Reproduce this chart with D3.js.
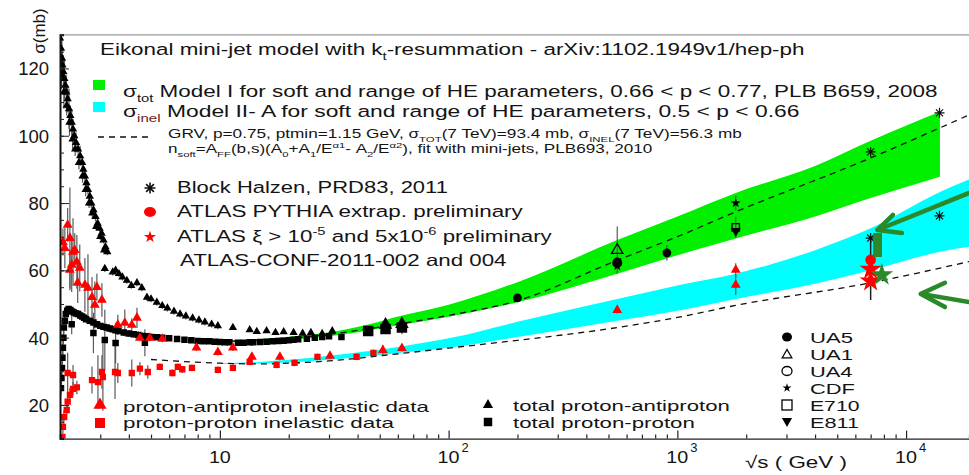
<!DOCTYPE html>
<html>
<head>
<meta charset="utf-8">
<script src="https://cdn.jsdelivr.net/npm/d3@7"></script>
<style>
  body { margin: 0; background: #fff; }
  svg { display: block; }
  text { font-family: "Liberation Sans", Arial, Helvetica, sans-serif; fill: #141414; }
</style>
</head>
<body>
<svg id="chart" width="969" height="475"></svg>
<script>
// ---------- data: [sqrt(s) GeV, sigma mb, error mb] ----------
const pbarpTotal = [
  [2.00,129,6],[2.02,126,5],[2.04,123,6],[2.05,121,4],[2.07,119,5],[2.09,117,6],[2.11,115,3],[2.13,113,5],
  [2.16,111,4],[2.19,108,6],[2.22,106,3],[2.25,104,4],[2.28,102,3],[2.31,100,2],[2.35,98,3],[2.40,96,2],
  [2.45,94,3],[2.50,92,2],[2.53,90,2],[2.57,88,2],[2.61,86,2],[2.65,84,1.5],[2.70,82,2],[2.74,80,1.5],
  [2.80,78,1.5],[2.86,76,1.5],[2.92,74,1],[2.98,72.5,1],[3.04,71,1],[3.10,69,1],[3.16,67,1],[3.22,65.5,1],
  [2.03,118,4],[2.08,113,5],[2.14,109,3],[2.20,104,4],[2.27,99,3],[2.33,96,2],[2.42,92,2],[2.51,88,2],
  [2.59,84,2],[2.68,80,1.5],[2.77,77,1.5],[2.88,73,1],[3.00,70,1],[3.12,66,1],
  [3.14,60.5,1],[3.40,59.5,1],[3.50,60,1],[3.62,59,1],[3.75,58,1],[3.92,57,1],[4.10,55.5,1],[4.34,56.3,1],
  [4.56,54.8,1],[4.80,52,1],[5.0,51.5,1],[5.3,50.5,1],[5.6,49.5,1],[5.9,48.8,1],[6.3,47.8,1],[6.7,47,1],
  [7.1,46.4,1],[7.6,45.8,1],[8.1,45.2,1],[8.6,44.6,1],[9.2,44,1],[9.8,43.5,1],[11.4,43,0.5],[13.5,42.3,0.5],
  [14.5,41.8,0.5],[16,42,0.5],[17.5,41.5,0.5],[19,41.7,0.5],[21,41.5,0.5],[23,41.3,0.5],[25,41.5,0.5],
  [28,41.2,0.5],[31,42,0.5],[53,43.8,1],[62.5,44,2]
];
const ppTotal = [
  [2.02,25,2],[2.03,28,3],[2.04,31,3],[2.05,34,2],[2.06,37,3],[2.07,40,2],[2.08,43,2],[2.10,45,2],
  [2.12,47,1],[2.15,48,1],[2.18,48.5,1],[2.22,48.2,1],[2.26,47.8,1],[2.30,47.5,1],[2.35,47.2,1],[2.40,47,1],
  [2.45,46.6,1],[2.50,46.3,1],[2.55,45.9,1],[2.60,45.5,1],[2.70,45,1],[2.80,44.5,1],[2.90,44,1],[3.0,43.5,1],
  [3.1,43.2,1],[3.2,43,1],[3.3,42.7,1],[3.4,42.5,1],[3.5,42.2,1],[3.6,42,1],[3.8,41.5,1],[4.0,41.2,1],
  [4.2,41,1],[4.4,40.8,1],[4.6,40.5,1],[4.8,40.4,1],[5.0,40.2,1],[5.3,40.1,0.5],[5.6,40,0.5],[6.0,39.8,0.5],
  [6.5,39.6,0.5],[7.0,39.4,0.5],[7.5,39.2,0.5],[8.0,39,0.5],[8.5,38.9,0.5],[9.0,38.9,0.5],[9.5,38.8,0.5],
  [10,38.7,0.5],[10.5,38.6,0.5],[11,38.6,0.5],[12,38.5,0.5],[12.7,38.5,0.5],[13.5,38.6,0.5],[14,38.6,0.5],
  [15,38.7,0.5],[16,38.8,0.5],[17,38.9,0.5],[18,39,0.5],[19,39.1,0.5],[20,39.2,0.5],[21,39.4,0.5],
  [22,39.5,0.5],[24,39.7,0.5],[26,40,0.5],[28,40.2,0.5],[30,40.4,0.5],[34,40.2,0.5],[44.5,42,1],
  [53,42.6,1],[62.5,43,2],
  [2.25,44,3],[2.80,41.4,6],[3.14,39.3,9],[3.50,38.4,6],[4.70,38.5,4]
];
const pbarpInel = [
  [2.06,68.4,4],[2.10,66.6,6],[2.16,73.5,5],[2.21,69.6,15],[2.25,61.6,8],[2.21,60.1,6],[2.28,65.5,10],
  [2.32,66,5],[2.37,62.5,8],[2.39,56.3,6],[2.44,60.7,7],[2.57,55.7,8],[2.65,54.8,10],[2.76,52,6],
  [2.84,49.7,7],[2.90,55,4],[3.05,51.2,5],[3.58,43.8,3],[3.84,44.4,4],[4.12,43.8,2],[4.34,45.9,3],
  [4.47,39.9,1],[4.94,39.9,1],[5.6,39.6,1],[7.9,37,1],[9.8,35.7,1],[11.4,37,1],[13.8,34.3,1],
  [18.3,34.3,1],[30.3,34.6,1],[51.6,36.3,1.5],[62.5,36.9,1],[546,48.2,1],[1800,60.1,2],[1800,55.7,3]
];
const ppInel = [
  [2.05,10.5,1],[2.06,13.5,2],[2.08,16.4,2],[2.14,18.5,3],[2.16,21,2],[2.21,23,2],[2.28,24.8,2],
  [2.37,25.2,2],[2.16,29.5,6],[2.28,28.9,3],[2.76,27.4,4],[2.93,26.8,8],[3.05,29.8,5],[3.08,28.3,10],
  [3.48,29.8,8],[3.58,29.5,3],[4.12,29.5,4],[4.47,30.8,2],[4.84,29.8,2],[5.46,31.3,1],[6.2,29.5,1],
  [6.55,31.3,1],[6.85,30.6,1],[7.55,31,1],[9.8,30.4,1],[11.4,31,1],[13.5,32.8,1],[17.7,31.9,1],
  [21.2,32.5,1],[26.7,34.3,1],[39.6,34.3,1],[46.9,35.5,1]
];

// collider measurements
const ua5 = [[200,51.8,1.2],[546,62.5,1.5],[900,65.2,2.3]];
const ua1 = [[546,66,7]];
const ua4 = [[546,62.2,1.5]];
const cdf = [[546,61.3,0.9],[1800,80.0,2.2]];
const e710 = [[1800,72.8,3.1]];
const e811 = [[1800,71.7,2.0]];
const blockHalzen = [[7000,95.2],[14000,106.8],[7000,69.6],[14000,76.2]];
const atlasPythia = [[7000,63.1]];
const atlasXi = [[7000,60.3],[7000,56.8]];
const atlasRange = [[7000,51.2,70]];

// model bands: [sqrt(s), lower, upper]
const greenBand = [
  [11,38.6,39.0],[15,38.9,39.6],[20,39.4,40.3],[30,40.4,41.6],[45,42.2,44.0],[62,43.8,46.5],
  [100,46.2,49.8],[200,50.5,56.5],[546,59,69],[1000,64.5,76],[1800,69.5,83],[4000,76,91],
  [7000,81.5,98.5],[14060,87.8,107.1]
];
const cyanBand = [
  [10,32.2,32.4],[15,32.3,32.8],[20,32.6,33.4],[30,33.4,34.6],[62,35.5,37.4],[100,37,39.8],
  [200,40.2,44.7],[546,45,51.5],[1000,48,55.5],[1800,51.5,59],[4000,56,66],[7000,60,72.5],
  [14060,65.5,83.3],[18840,67,87]
];
// GRV mini-jet curves
const grvTot = [
  [10,38.9],[20,39.8],[30,41],[62,44.2],[100,46.6],[200,51],[546,63],[1000,70],[1800,77.4],
  [7000,93.4],[18840,106.2]
];
const grvInel = [
  [5,33.5],[7,32.9],[10,32.4],[15,32.2],[20,32.4],[30,33.1],[62,35.3],[100,36.9],[200,39.2],
  [546,43],[1000,46],[1800,49.6],[7000,56.3],[18840,62.6]
];

// highlighted annotations near 7 TeV
const arrowA = [[18840,83.0],[7500,72.0]];
const arrowAHead = [[8765,76.5],[7500,72.0],[9594,71.1]];
const arrowB = [[18840,50.6],[11610,53]];
const arrowBHead = [[14790,56.3],[11610,53],[14790,49.1]];
const markBar = [[7500,71.1],[7500,64.0]];
const greenStar = [[7836,58.6]];

// axis ticks
const yLabelTicks = [20,40,60,80,100,120];
const xLabelTicks = [[10,"10",""],[100,"10","2"],[1000,"10","3"],[10000,"10","4"]];

// ---------- drawing ----------
const svg = d3.select("#chart");
const x = d3.scaleLog().domain([2, 18840]).range([60, 969]);
const y = d3.scaleLinear().domain([10, 130]).range([438.6, 34.8]);

svg.append("defs").append("clipPath").attr("id", "plotArea")
  .append("rect").attr("x", 60).attr("y", 34.8).attr("width", 909).attr("height", 403.8);
const plot = svg.append("g").attr("clip-path", "url(#plotArea)");

const area = d3.area().x(d => x(d[0])).y0(d => y(d[1])).y1(d => y(d[2])).curve(d3.curveMonotoneX);
const line = d3.line().x(d => x(d[0])).y(d => y(d[1])).curve(d3.curveMonotoneX);
const straight = d3.line().x(d => x(d[0])).y(d => y(d[1]));

plot.append("path").datum(cyanBand).attr("d", area).attr("fill", "#00ffff");
plot.append("path").datum(greenBand).attr("d", area).attr("fill", "#00f000");

[grvTot, grvInel].forEach(c =>
  plot.append("path").datum(c).attr("d", line).attr("fill", "none")
    .attr("stroke", "#111").attr("stroke-width", 1.3).attr("stroke-dasharray", "6,5"));

function errBars(data, color) {
  plot.append("g").selectAll("line").data(data.filter(d => d[2])).join("line")
    .attr("x1", d => x(d[0])).attr("x2", d => x(d[0]))
    .attr("y1", d => y(d[1] - d[2])).attr("y2", d => y(d[1] + d[2]))
    .attr("stroke", color || "#5a5a5a").attr("stroke-width", 1.2);
}
function marks(g, data, path, fill, stroke, rot, sw) {
  g.append("g").selectAll("path").data(data).join("path")
    .attr("d", path)
    .attr("transform", d => `translate(${x(d[0])},${y(d[1])})${rot ? " rotate(180)" : ""}`)
    .attr("fill", fill).attr("stroke", stroke || "none").attr("stroke-width", sw || 1);
}
const sym = (t, s) => d3.symbol().type(t).size(s)();
function asterisk(r) {
  const a = r * 0.7071;
  return `M0,${-r}L0,${r}M${-r},0L${r},0M${-a},${-a}L${a},${a}M${-a},${a}L${a},${-a}`;
}

[pbarpTotal, ppTotal, pbarpInel, ppInel, ua5, ua1, ua4, cdf, e710, e811].forEach(d => errBars(d));
// ATLAS 7 TeV range
plot.append("g").selectAll("line").data(atlasRange).join("line")
  .attr("x1", d => x(d[0])).attr("x2", d => x(d[0]))
  .attr("y1", d => y(d[1])).attr("y2", d => y(d[2]))
  .attr("stroke", "#222").attr("stroke-width", 1.5);

marks(plot, ppTotal.filter(d => d[0] < 40), sym(d3.symbolSquare, 42), "#000");
marks(plot, ppTotal.filter(d => d[0] >= 40), sym(d3.symbolSquare, 110), "#000");
marks(plot, pbarpTotal.filter(d => d[0] < 40), sym(d3.symbolTriangle, 30), "#000");
marks(plot, pbarpTotal.filter(d => d[0] >= 40), sym(d3.symbolTriangle, 80), "#000");
marks(plot, ppInel, sym(d3.symbolSquare, 40), "#ff0000");
marks(plot, pbarpInel, sym(d3.symbolTriangle, 42), "#ff0000");

marks(plot, ua5, sym(d3.symbolCircle, 60), "#000");
marks(plot, ua1, sym(d3.symbolTriangle, 55), "none", "#000", false, 1.3);
marks(plot, ua4, sym(d3.symbolCircle, 60), "none", "#000", false, 1.3);
marks(plot, cdf, sym(d3.symbolStar, 30), "#000");
marks(plot, e710, sym(d3.symbolSquare, 55), "none", "#000", false, 1.3);
marks(plot, e811, sym(d3.symbolTriangle, 45), "#000", null, true);
marks(plot, blockHalzen, asterisk(5), "none", "#111", false, 1.2);
marks(plot, atlasPythia, sym(d3.symbolCircle, 90), "#ff0000");
marks(plot, atlasXi, sym(d3.symbolStar, 150), "#ff0000");

// green annotation
const annot = "#2a8a2a";
plot.append("path").datum(markBar).attr("d", straight).attr("stroke", annot).attr("stroke-width", 9).attr("fill", "none");
[arrowA, arrowAHead, arrowB, arrowBHead].forEach(p =>
  plot.append("path").datum(p).attr("d", straight).attr("fill", "none")
    .attr("stroke", annot).attr("stroke-width", 4.5).attr("stroke-linecap", "round").attr("stroke-linejoin", "round"));
marks(plot, greenStar, sym(d3.symbolStar, 160), annot);

// ---------- axes ----------
const axes = svg.append("g");
axes.append("line").attr("x1", 60).attr("x2", 969).attr("y1", 34.8).attr("y2", 34.8).attr("stroke", "#999").attr("stroke-width", 1.2);
const xMinor = [];
[1, 10, 100, 1000, 10000].forEach(dec => d3.range(2, 10).forEach(m => {
  const v = dec * m; if (v >= 2 && v <= 18840) xMinor.push(v);
}));
axes.append("g").attr("transform", "translate(0,438.6)")
  .call(d3.axisBottom(x).tickValues(xMinor).tickSize(-4).tickFormat(""))
  .call(g => g.selectAll("line,path").attr("stroke", "#222").attr("stroke-width", 1.2));
axes.append("g").attr("transform", "translate(0,438.6)")
  .call(d3.axisBottom(x).tickValues(xLabelTicks.map(d => d[0])).tickSize(-8).tickFormat(""))
  .call(g => g.select("path").remove())
  .call(g => g.selectAll("line").attr("stroke", "#222").attr("stroke-width", 1.2));
axes.append("g").attr("transform", "translate(60,0)")
  .call(d3.axisLeft(y).tickValues(d3.range(10, 131, 5)).tickSize(-4).tickFormat(""))
  .call(g => g.selectAll("line").attr("stroke", "#222"))
  .call(g => g.select("path").attr("stroke", "#111").attr("stroke-width", 2));
axes.append("g").attr("transform", "translate(60,0)")
  .call(d3.axisLeft(y).tickValues(yLabelTicks).tickSize(-9).tickFormat(""))
  .call(g => g.select("path").remove())
  .call(g => g.selectAll("line").attr("stroke", "#222"));

// ---------- text helper ----------
function label(x0, y0, size, parts, width, anchor, color) {
  const t = svg.append("text").attr("font-size", size).attr("text-anchor", anchor || "start");
  if (color) t.style("fill", color);
  let shift = 0;
  parts.forEach(p => {
    const [s, k, c] = typeof p === "string" ? [p, "n"] : p;
    const target = k === "sub" ? size * 0.32 : k === "sup" ? -size * 0.42 : 0;
    const ts = t.append("tspan").attr("dy", target - shift).text(s);
    if (k !== "n") ts.attr("font-size", size * 0.66);
    if (c) ts.style("fill", c);
    shift = target;
  });
  const w = t.node().getBBox().width;
  const sx = width ? width / w : 1;
  t.attr("transform", `translate(${x0},${y0}) scale(${sx},1)`);
  return t;
}

yLabelTicks.forEach(v => label(49, y(v) + 7, 18.5, [String(v)], null, "end"));
xLabelTicks.forEach(([v, base, sup]) => {
  label(x(v), 463, 17, [base], 22, "middle");
  if (sup) label(x(v) + 13, 452, 13, [sup], null, "start");
});
svg.append("text").attr("font-size", 17).attr("text-anchor", "middle")
  .attr("transform", "translate(45,31) rotate(-90)").text("σ(mb)");
label(745, 468, 17, ["√s ( GeV )"], 102);

// ---------- legends ----------
label(100, 55, 17, ["Eikonal mini-jet model with k", ["t", "sub"], "-resummation - arXiv:1102.1949v1/hep-ph"], 705);

svg.append("rect").attr("x", 93).attr("y", 80).attr("width", 12).attr("height", 10).attr("fill", "#00f000");
svg.append("rect").attr("x", 93).attr("y", 102).attr("width", 12).attr("height", 10).attr("fill", "#00ffff");
label(123, 97, 16.5, ["σ", ["tot", "sub"], " Model I  for soft and range of  HE parameters, 0.66 < p < 0.77, PLB B659, 2008"], 815);
label(123, 117, 16.5, ["σ", ["inel", "sub", "#6a1a1a"], " Model II- A  for soft and range of  HE parameters, 0.5 < p < 0.66"], 677);

svg.append("line").attr("x1", 98).attr("x2", 148).attr("y1", 137).attr("y2", 137)
  .attr("stroke", "#111").attr("stroke-width", 1.3).attr("stroke-dasharray", "6,5");
label(168, 138, 12, ["GRV, p=0.75, ptmin=1.15 GeV, σ", ["TOT", "sub"], "(7 TeV)=93.4 mb, σ", ["INEL", "sub"], "(7 TeV)=56.3 mb"], 575);
label(168, 153, 12, ["n", ["soft", "sub"], "=A", ["FF", "sub"], "(b,s)(A", ["0", "sub"], "+A", ["1", "sub"], "/E", ["α1", "sup"], "- A", ["2", "sub"], "/E", ["α2", "sup"], "), fit with mini-jets, PLB693, 2010"], 485);

const lg = svg.append("g");
lg.append("path").attr("d", asterisk(5.5)).attr("transform", "translate(150,188)").attr("stroke", "#111").attr("stroke-width", 1.6).attr("fill", "none");
lg.append("ellipse").attr("cx", 150).attr("cy", 212).attr("rx", 6).attr("ry", 5).attr("fill", "#ff0000");
lg.append("path").attr("d", sym(d3.symbolStar, 45)).attr("transform", "translate(150,237)").attr("fill", "#ff0000");
label(177, 193, 16.5, ["Block Halzen, PRD83, 2011"], 271);
label(177, 217, 16.5, ["ATLAS PYTHIA extrap. preliminary"], 347);
label(177, 242, 16.5, ["ATLAS ξ > 10", ["-5", "sup"], " and 5x10", ["-6", "sup"], " preliminary"], 376);
label(180, 266, 16.5, ["ATLAS-CONF-2011-002 and 004"], 327);

lg.append("path").attr("d", sym(d3.symbolTriangle, 75)).attr("transform", "translate(100,405)").attr("fill", "#ff0000");
lg.append("path").attr("d", sym(d3.symbolSquare, 100)).attr("transform", "translate(100,423)").attr("fill", "#ff0000");
lg.append("path").attr("d", sym(d3.symbolTriangle, 45)).attr("transform", "translate(488,405)").attr("fill", "#000");
lg.append("path").attr("d", sym(d3.symbolSquare, 72)).attr("transform", "translate(488,422)").attr("fill", "#000");
label(123, 412, 15, ["proton-antiproton inelastic data"], 307);
label(123, 428, 15, ["proton-proton inelastic data"], 272);
label(513, 411, 15, ["total proton-antiproton"], 217);
label(513, 428, 15, ["total proton-proton"], 182);

lg.append("ellipse").attr("cx", 787).attr("cy", 337).attr("rx", 5).attr("ry", 4.5).attr("fill", "#000");
lg.append("path").attr("d", sym(d3.symbolTriangle, 40)).attr("transform", "translate(787,355)").attr("fill", "none").attr("stroke", "#000").attr("stroke-width", 1.3);
lg.append("ellipse").attr("cx", 787).attr("cy", 371).attr("rx", 5).attr("ry", 4.5).attr("fill", "none").attr("stroke", "#000").attr("stroke-width", 1.3);
lg.append("path").attr("d", sym(d3.symbolStar, 25)).attr("transform", "translate(787,388)").attr("fill", "#000");
lg.append("rect").attr("x", 782).attr("y", 400).attr("width", 10).attr("height", 10).attr("fill", "none").attr("stroke", "#000").attr("stroke-width", 1.3);
lg.append("path").attr("d", sym(d3.symbolTriangle, 45)).attr("transform", "translate(787,421) rotate(180)").attr("fill", "#000");
[["UA5", 343, 43], ["UA1", 360, 43], ["UA4", 377, 43], ["CDF", 394, 45], ["E710", 411, 50], ["E811", 428, 49]]
  .forEach(([t, b, w]) => label(810, b, 15.5, [t], w));
</script>
</body>
</html>
